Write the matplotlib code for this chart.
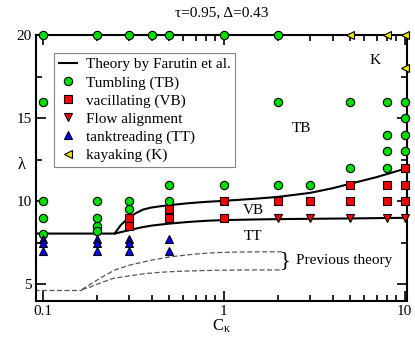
import matplotlib
matplotlib.use("Agg")
import matplotlib.pyplot as plt
from matplotlib.ticker import LogLocator, NullFormatter, FixedLocator, MultipleLocator

plt.rcParams['font.family'] = ['Liberation Serif', 'DejaVu Serif']
plt.rcParams['mathtext.fontset'] = 'custom'
plt.rcParams['mathtext.rm'] = 'Liberation Serif'
plt.rcParams['mathtext.it'] = 'Liberation Serif:italic'

# ---- data ----
tb_x = [0.1, 0.1, 0.1, 0.1, 0.1,
        0.2, 0.2, 0.2, 0.2, 0.2,
        0.3, 0.3, 0.3,
        0.4,
        0.5, 0.5, 0.5,
        1, 1,
        2, 2, 2,
        3,
        5, 5,
        8, 8, 8, 8,
        10, 10, 10, 10]
tb_y = [20, 16, 10, 9, 8,
        20, 10, 9, 8.5, 8.2,
        20, 10, 9.5,
        20,
        20, 11, 10,
        20, 11,
        20, 16, 11,
        11,
        16, 12,
        16, 14, 13, 12,
        16, 15, 14, 13]

vb_x = [0.3, 0.3, 0.5, 0.5, 1, 1, 2, 3, 5, 5, 8, 8, 10, 10, 10]
vb_y = [9, 8.5, 9.5, 9, 10, 9, 10, 10, 11, 10, 11, 10, 12, 11, 10]

fa_x = [2, 3, 5, 8, 10]
fa_y = [9, 9, 9, 9, 9]

tt_x = [0.1, 0.1, 0.1, 0.2, 0.2, 0.2, 0.3, 0.3, 0.3, 0.5, 0.5]
tt_y = [7.7, 7.5, 7.0, 7.7, 7.5, 7.0, 7.7, 7.5, 7.0, 7.7, 7.0]

k_x = [5, 8, 10, 10]
k_y = [20, 20, 20, 18]

# theory by Farutin et al.
th_low_x = [0.09, 0.15, 0.2, 0.25, 0.3, 0.35, 0.4, 0.5, 0.64, 0.8, 1.0, 1.5, 2, 3, 5, 7, 10]
th_low_y = [8.05, 8.05, 8.05, 8.05, 8.25, 8.42, 8.53, 8.65, 8.75, 8.82, 8.86, 8.9, 8.92, 8.94, 8.96, 8.98, 9.0]
th_up_x = [0.25, 0.27, 0.3, 0.33, 0.36, 0.4, 0.45, 0.5, 0.64, 0.8, 1.0, 1.5, 2, 3, 4, 5, 7, 10]
th_up_y = [8.05, 8.55, 9.02, 9.3, 9.5, 9.62, 9.7, 9.76, 9.88, 9.96, 10.02, 10.15, 10.26, 10.5, 10.78, 11.05, 11.45, 11.95]

# previous theory (dashed)
pv_flat_x = [0.09, 0.13, 0.165]
pv_flat_y = [4.68, 4.68, 4.68]
pv_up_x = [0.165, 0.19, 0.214, 0.25, 0.3, 0.4, 0.5, 0.7, 0.9, 1.2, 1.6, 2.1]
pv_up_y = [4.68, 5.1, 5.44, 5.85, 6.14, 6.45, 6.64, 6.82, 6.9, 6.94, 6.95, 6.95]
pv_lo_x = [0.165, 0.18, 0.2, 0.243, 0.3, 0.37, 0.45, 0.566, 0.7, 0.9, 1.3, 2.1]
pv_lo_y = [4.68, 4.8, 5.0, 5.34, 5.5, 5.64, 5.72, 5.78, 5.81, 5.84, 5.86, 5.86]

# ---- figure ----
fig = plt.figure(figsize=(4.15, 3.38), dpi=100)
ax = fig.add_axes([0.0867, 0.110, 0.894, 0.786])

ax.plot(th_low_x, th_low_y, color='black', lw=1.5, label='Theory by Farutin et al.')
ax.plot(th_up_x, th_up_y, color='black', lw=1.5)
for xs, ys in [(pv_flat_x, pv_flat_y), (pv_up_x, pv_up_y), (pv_lo_x, pv_lo_y)]:
    ax.plot(xs, ys, color='#555555', lw=0.9, ls=(0, (4, 2)))

mk = dict(linestyle='none', markeredgecolor='black', markeredgewidth=0.8, clip_on=False, zorder=5)
ax.plot(tb_x, tb_y, marker='o', markersize=6.0, markerfacecolor='#00e000', label='Tumbling (TB)', **mk)
ax.plot(vb_x, vb_y, marker='s', markersize=5.5, markerfacecolor='#ff0000', label='vacillating (VB)', **mk)
ax.plot(fa_x, fa_y, marker='v', markersize=5.8, markerfacecolor='#ff0000', label='Flow alignment', **mk)
ax.plot(tt_x, tt_y, marker='^', markersize=5.8, markerfacecolor='#0000ff', label='tanktreading (TT)', **mk)
ax.plot(k_x, k_y, marker='<', markersize=5.8, markerfacecolor='#e8e800', label='kayaking (K)', **mk)

ax.set_xscale('log')
ax.set_xlim(0.092, 10.3)
ax.set_ylim(4.0, 20.0)
ax.xaxis.set_major_locator(FixedLocator([0.1, 1, 10]))
ax.set_xticklabels(['0.1', '1', '10'])
ax.xaxis.set_minor_locator(LogLocator(base=10, subs=range(2, 10)))
ax.xaxis.set_minor_formatter(NullFormatter())
ax.yaxis.set_major_locator(FixedLocator([5, 10, 15, 20]))
ax.yaxis.set_minor_locator(MultipleLocator(2.5))
ax.tick_params(which='both', direction='in', top=True, right=True, labelsize=11, width=1.2)
ax.tick_params(which='major', length=7, pad=3)
ax.tick_params(which='minor', length=4)
for s in ax.spines.values():
    s.set_linewidth(1.5)

ax.set_xlabel(r'C$_{\mathrm{κ}}$', fontsize=12, labelpad=0)
fig.text(22 / 415, 1 - 165 / 338, 'λ', fontsize=12, ha='center', va='center')
ax.set_title('τ=0.95, Δ=0.43', fontsize=11, pad=14)

ax.text(6.9, 18.5, 'K', fontsize=11, ha='center', va='center')
ax.text(2.68, 14.4, 'TB', fontsize=11, ha='center', va='center')
ax.text(1.46, 9.46, 'VB', fontsize=11, ha='center', va='center')
ax.text(1.46, 7.85, 'TT', fontsize=11, ha='center', va='center')
ax.text(2.19, 6.4, '}', fontsize=16, ha='center', va='center')
ax.text(2.52, 6.45, 'Previous theory', fontsize=11, ha='left', va='center')

leg = ax.legend(loc='upper left', bbox_to_anchor=(0.0485, 0.932), borderaxespad=0,
                fontsize=11, frameon=True, fancybox=False, handlelength=1.2,
                handletextpad=0.6, labelspacing=0.28, borderpad=0.3, numpoints=1)
leg.get_frame().set_edgecolor('#666666')
leg.get_frame().set_linewidth(0.8)

fig.savefig('out.png', dpi=100)
